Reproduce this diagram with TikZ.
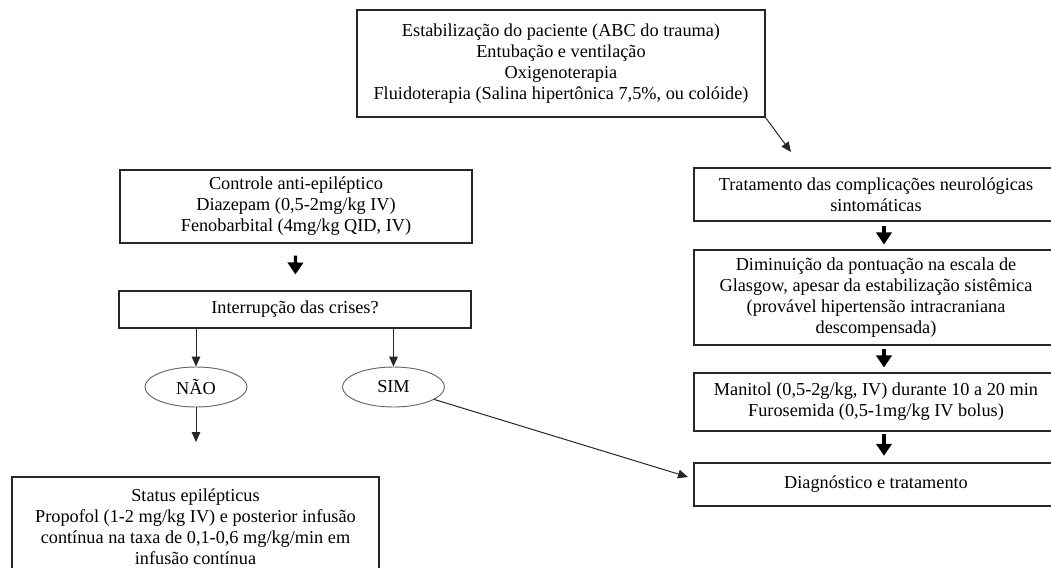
\documentclass[tikz,border=0pt]{standalone}
\usepackage{fontspec}
\setmainfont{Liberation Serif}
\usetikzlibrary{arrows.meta,shapes.geometric}

\begin{document}
\begin{tikzpicture}[x=0.75pt, y=-0.75pt,
  every node/.style={font=\fontsize{13.7}{15.75}\selectfont},
  caixa/.style={draw=black!85, line width=0.8pt, rectangle, align=center, inner sep=0pt},
  oval/.style={draw=black!60, line width=0.7pt, ellipse, inner sep=0pt, minimum width=76.5pt, minimum height=30pt},
  seta/.style={-{Triangle[width=6.5pt,length=7.5pt]}, line width=0.75pt, black!85},
  setagrossa/.style={-{Triangle[width=11.5pt,length=9pt]}, line width=2.4pt}]
\useasboundingbox (0,0) rectangle (1051,568);

\node[caixa, minimum width=306pt, minimum height=80.25pt] (estab) at (561,63.5)
  {Estabilização do paciente (ABC do trauma)\\Entubação e ventilação\\Oxigenoterapia\\Fluidoterapia (Salina hipertônica 7,5\%, ou colóide)};

\node[caixa, minimum width=273pt, minimum height=39.75pt] (trat) at (876,194.5)
  {Tratamento das complicações neurológicas\\sintomáticas};
\node[caixa, minimum width=273pt, minimum height=71.25pt] (dimin) at (876,297.5)
  {Diminuição da pontuação na escala de\\Glasgow, apesar da estabilização sistêmica\\(provável hipertensão intracraniana\\descompensada)};
\node[caixa, minimum width=273pt, minimum height=43.5pt] (manit) at (876,402)
  {Manitol (0,5-2g/kg, IV) durante 10 a 20 min\\Furosemida (0,5-1mg/kg IV bolus)};
\node[caixa, minimum width=273pt, minimum height=32.25pt] (diag) at (876,484.5)
  {Diagnóstico e tratamento};

\node[caixa, minimum width=264pt, minimum height=54.75pt] (ctrl) at (296,206.5)
  {Controle anti-epiléptico\\Diazepam (0,5-2mg/kg IV)\\Fenobarbital (4mg/kg QID, IV)};
\node[caixa, minimum width=264pt, minimum height=27.75pt] (interr) at (295,309.5)
  {Interrupção das crises?};

\node[oval] (nao) at (196,387) {NÃO};
\node[oval] (sim) at (393.5,387) {SIM};

\node[caixa, minimum width=275.25pt, minimum height=75pt] (status) at (195.5,527)
  {Status epilépticus\\Propofol (1-2 mg/kg IV) e posterior infusão\\contínua na taxa de 0,1-0,6 mg/kg/min em\\infusão contínua};

\coordinate (eixo) at (884,0);
\coordinate (fimestab) at (791,152);
\coordinate (fimnao) at (196,442);
\coordinate (chegada) at (688,477);

\draw[seta] (estab.south east) -- (fimestab);
\draw[setagrossa, shorten <=3pt, shorten >=3.75pt] (trat.south -| eixo) -- (dimin.north -| eixo);
\draw[setagrossa, shorten <=2.25pt, shorten >=3.75pt] (dimin.south -| eixo) -- (manit.north -| eixo);
\draw[setagrossa, shorten <=1.5pt, shorten >=5pt] (manit.south -| eixo) -- (diag.north -| eixo);

\draw[setagrossa, shorten <=9pt, shorten >=12pt] (ctrl) -- (interr);
\draw[seta] (interr.south -| nao) -- (nao);
\draw[seta] (interr.south -| sim) -- (sim);
\draw[seta] (nao) -- (fimnao);
\draw[seta] (sim) -- (chegada);
\end{tikzpicture}
\end{document}
